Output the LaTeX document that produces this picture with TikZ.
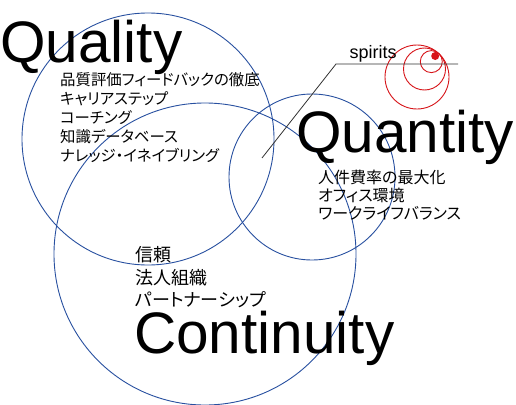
\documentclass[tikz,border=0pt]{standalone}
\usepackage{fontspec}
\setmainfont{Liberation Sans}
\newfontfamily\jp[RawFeature=+palt]{Noto Sans CJK JP}
\definecolor{ringblue}{RGB}{40,80,160}
\definecolor{ringred}{RGB}{215,20,25}
\definecolor{leadgray}{RGB}{50,50,50}
\tikzset{
  ring/.style={draw=ringblue, line width=0.9pt},
  redring/.style={draw=ringred, line width=0.9pt},
  bigword/.style={anchor=base west, inner sep=0pt, font=\fontsize{58.5}{58.5}\selectfont},
  jplist/.style={anchor=west, inner sep=0pt, align=left},
  lead/.style={draw=leadgray, line width=0.8pt}
}
\begin{document}
\begin{tikzpicture}[x=1pt,y=-1pt]
\useasboundingbox (0,0) rectangle (516,404);
\fill[white] (0,0) rectangle (516,404);
% blue rings
\draw[ring] (148,139) circle[radius=126];
\draw[ring] (312,177) circle[radius=83];
\draw[ring] (205,254) circle[radius=151];
% red spiral rings
\draw[redring] (417,77) circle[radius=32];
\draw[redring] (424.5,69) circle[radius=21];
\draw[redring] (431.3,61.6) circle[radius=11];
\fill[ringred] (435.2,56) circle[radius=4];
% leader
\coordinate (lend) at (262,158);
\coordinate (lknee) at (336,64);
\coordinate (ltail) at (458,64);
\draw[lead] (lend) -- (lknee) -- (ltail);
\node[anchor=base west, inner sep=0pt, font=\fontsize{18}{18}\selectfont] (spirits) at (349.5,59) {spirits};
% big words
\node[bigword] (quality) at (0,63) {Quality};
\node[bigword] (quantity) at (296,152) {Quantity};
\node[bigword] (continuity) at (134,353) {Continuity};
% lists
\node[jplist, font=\jp\fontsize{15.4}{19}\selectfont] (qlist) at (60,117.5) {品質評価フィードバックの徹底\\キャリアステップ\\コーチング\\知識データベース\\ナレッジ・イネイブリング};
\node[jplist, font=\jp\fontsize{16}{18.3}\selectfont] (nlist) at (318,195) {人件費率の最大化\\オフィス環境\\ワークライフバランス};
\node[jplist, font=\jp\fontsize{18}{22.5}\selectfont] (clist) at (135,277.5) {信頼\\法人組織\\パートナーシップ};
\end{tikzpicture}
\end{document}
